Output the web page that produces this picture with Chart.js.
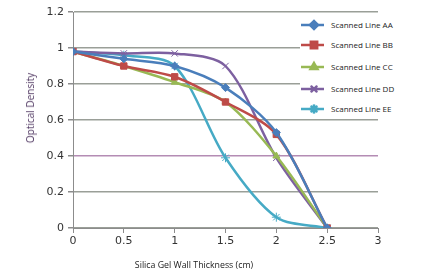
<!DOCTYPE html>
<html lang="en">
<head>
  <meta charset="UTF-8">
  <script src="https://cdn.jsdelivr.net/npm/chart.js"></script>
  <title>Optical Density vs Silica Gel Wall Thickness</title>
  <style>
    body {
      margin: 0;
      background: #ffffff;
    }

    #wrap {
      position: relative;
      width: 424px;
      height: 272px;
    }

    #legend {
      position: absolute;
      left: 300px;
      top: 15px;
      width: 124px;
      height: 103px;
      background: #ffffff;
      font-family: "Open Sans", sans-serif;
      font-size: 8px;
      color: #222;
    }

    .item {
      position: absolute;
      left: 0;
      height: 14px;
      line-height: 14px;
    }

    .item canvas {
      position: absolute;
      left: 0;
      top: 0;
    }

    .item span {
      position: absolute;
      left: 31px;
      white-space: nowrap;
    }

    #ytitle {
      position: absolute;
      left: 30px;
      top: 108px;
      transform: translate(-50%, -50%) rotate(-90deg);
      font-family: "Open Sans", sans-serif;
      font-size: 10px;
      color: #4e3560;
      white-space: nowrap;
    }

    #xtitle {
      position: absolute;
      left: 194px;
      top: 265px;
      transform: translate(-50%, -50%);
      font-family: "Open Sans", sans-serif;
      font-size: 8.8px;
      color: #222;
      white-space: nowrap;
    }
  </style>
</head>
<body>

  <div id="wrap">
    <canvas id="chart" width="424" height="272"></canvas>
    <div id="legend"></div>
    <div id="ytitle">Optical Density</div>
    <div id="xtitle">Silica Gel Wall Thickness (cm)</div>
  </div>

  <script>
    // values
    const thickness = [0, 0.5, 1, 1.5, 2, 2.5];
    const seriesNames = ['Scanned Line AA', 'Scanned Line BB', 'Scanned Line CC', 'Scanned Line DD', 'Scanned Line EE'];
    const lineAA = [0.98, 0.94, 0.90, 0.78, 0.53, 0];
    const lineBB = [0.98, 0.90, 0.84, 0.70, 0.52, 0];
    const lineCC = [0.98, 0.90, 0.81, 0.70, 0.40, 0];
    const lineDD = [0.98, 0.97, 0.97, 0.90, 0.39, 0];
    const lineEE = [0.98, 0.96, 0.90, 0.39, 0.06, 0];
    const yTicks = [0, 0.2, 0.4, 0.6, 0.8, 1, 1.2];
    const xTicks = [0, 0.5, 1, 1.5, 2, 2.5, 3];

    const colors = ['#4a7ebb', '#be4b48', '#98b954', '#7d60a0', '#46aac5'];
    const markers = ['rectRot', 'rect', 'triangle', 'crossRot', 'star'];
    const sizes = [4, 4.5, 4, 4.5, 4.5];
    const allValues = [lineAA, lineBB, lineCC, lineDD, lineEE];

    const datasets = allValues.map((vals, i) => ({
      label: seriesNames[i],
      data: vals.map((v, j) => ({ x: thickness[j], y: v })),
      borderColor: colors[i],
      backgroundColor: colors[i],
      borderWidth: 2.5,
      pointStyle: markers[i],
      pointRadius: sizes[i],
      pointBorderWidth: 1,
      pointBorderColor: colors[i],
      tension: 0.3
    }));

    const gridColor = (ctx) => ctx.tick && ctx.tick.value === 0.4 ? '#b48cb4' : '#9a9f98';

    new Chart(document.getElementById('chart'), {
      type: 'scatter',
      data: { datasets: datasets },
      options: {
        responsive: false,
        animation: false,
        showLine: true,
        layout: { padding: { top: 12, right: 46, left: 0, bottom: 0 } },
        plugins: {
          legend: { display: false },
          tooltip: { enabled: false }
        },
        scales: {
          x: {
            type: 'linear',
            min: 0,
            max: 3,
            afterBuildTicks: (axis) => { axis.ticks = xTicks.map(v => ({ value: v })); },
            afterFit: (axis) => { axis.height = 44; },
            grid: {
              display: true,
              drawOnChartArea: false,
              drawTicks: true,
              tickLength: 5,
              color: '#8c8c8c'
            },
            border: { color: '#8c8c8c' },
            ticks: {
              font: { family: 'DejaVu Sans', size: 11 },
              color: '#333',
              padding: 2,
              maxRotation: 0,
              callback: (v) => String(v)
            }
          },
          y: {
            min: 0,
            max: 1.2,
            afterBuildTicks: (axis) => { axis.ticks = yTicks.map(v => ({ value: v })); },
            afterFit: (axis) => { axis.width = 73; },
            grid: {
              color: gridColor,
              lineWidth: 1.5,
              drawTicks: true,
              tickLength: 5,
              tickColor: '#8c8c8c'
            },
            border: { color: '#8c8c8c' },
            ticks: {
              font: { family: 'DejaVu Sans', size: 11 },
              color: '#333',
              padding: 4,
              callback: (v) => String(v)
            }
          }
        }
      }
    });

    // legend with a line sample and marker for every series
    const legend = document.getElementById('legend');
    const itemTops = [3, 23, 45, 67, 87];
    seriesNames.forEach((name, i) => {
      const item = document.createElement('div');
      item.className = 'item';
      item.style.top = itemTops[i] + 'px';
      const c = document.createElement('canvas');
      c.width = 26;
      c.height = 14;
      const g = c.getContext('2d');
      g.strokeStyle = colors[i];
      g.lineWidth = 2.5;
      g.beginPath();
      g.moveTo(1, 7);
      g.lineTo(24, 7);
      g.stroke();
      g.fillStyle = colors[i];
      Chart.helpers.drawPoint(g, {
        pointStyle: markers[i],
        radius: sizes[i],
        borderWidth: 1,
        rotation: 0
      }, 14, 7);
      g.fill();
      g.strokeStyle = colors[i];
      g.lineWidth = 1;
      g.stroke();
      item.appendChild(c);
      const label = document.createElement('span');
      label.textContent = name;
      item.appendChild(label);
      legend.appendChild(item);
    });
  </script>

</body>
</html>
